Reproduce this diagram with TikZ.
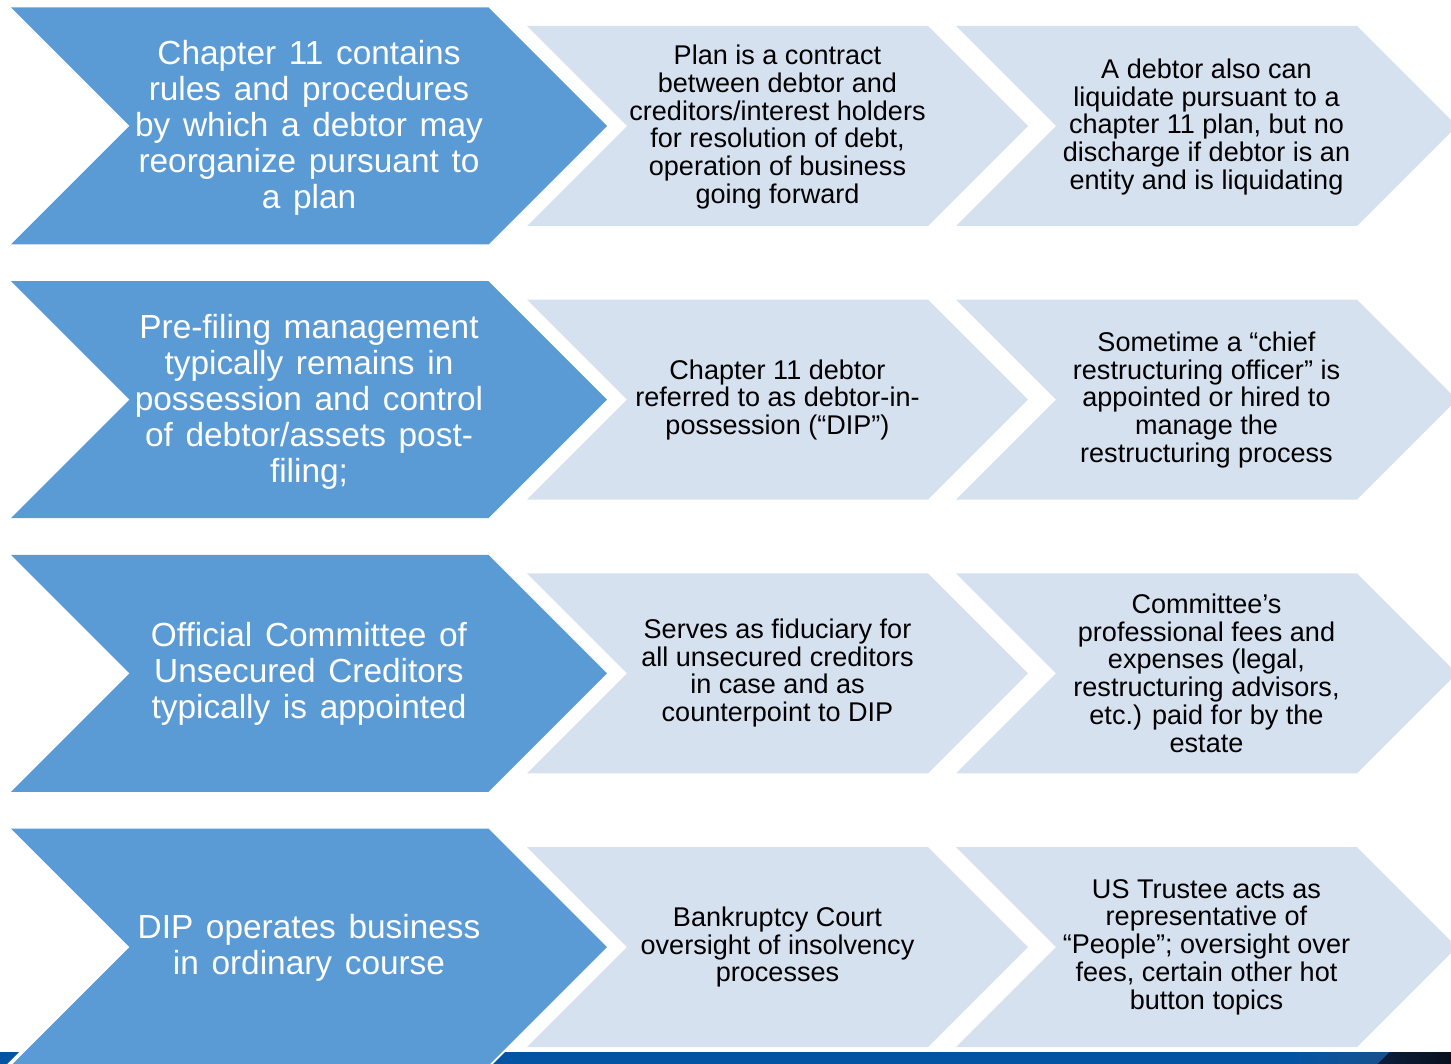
\documentclass[tikz,border=0pt]{standalone}
\usepackage{fontspec}
\setmainfont{Liberation Sans}
\definecolor{chdark}{RGB}{91,155,213}
\definecolor{chlight}{RGB}{214,225,240}
\definecolor{barblue}{RGB}{4,84,164}
\definecolor{barmid}{RGB}{24,80,140}
\definecolor{barnavy}{RGB}{12,30,60}
\definecolor{barblack}{RGB}{8,16,30}
% chevron: #1 style, #2 left x, #3 centre y, #4 half height, #5 length to the tip
\newcommand{\chev}[5]{%
  \fill[#1] (#2,#3-#4) -- ++(#5-#4,0) -- ++(#4,#4) -- ++(-#4,#4)
    -- ++(-#5+#4,0) -- ++(#4,-#4) -- cycle;}
\tikzset{
  dchev/.style={fill=chdark},
  lchev/.style={fill=chlight},
  dtxt/.style={align=center, text=white, inner sep=0pt,
    font={\fontsize{19}{20.5}\selectfont\spaceskip=0.38em\relax}},
  ltxt/.style={align=center, text=black, inner sep=0pt,
    font=\fontsize{15.4}{15.8}\selectfont},
}

\begin{document}
\begin{tikzpicture}[x=0.02cm,y=-0.02cm]
\useasboundingbox (0,0) rectangle (1451,1064);
% footer bar, cut round the last dark chevron
\fill[barblue] (0,1052) -- (19,1052) -- (7,1064) -- (0,1064) -- cycle;
\fill[barblue] (505,1052) -- (1451,1052) -- (1451,1064) -- (493,1064) -- cycle;
\fill[left color=barblue, right color=barmid] (1290,1052) rectangle (1390,1064);
\fill[left color=barnavy, right color=barblack]
  (1390,1052) -- (1451,1052) -- (1451,1064) -- (1378,1064) -- cycle;
% chevrons, one row at a time
\foreach \r in {0,1,2,3} {
  \pgfmathsetmacro{\cy}{126+273.7*\r}
  \chev{dchev}{11}{\cy}{118.5}{596}
  \chev{lchev}{527}{\cy}{100}{501}
  \chev{lchev}{956}{\cy}{100}{501}
}
% row 1
\node[dtxt] (rules) at (309,128) {Chapter 11 contains\\rules and procedures\\by which a debtor may\\reorganize pursuant to\\a plan};
\node[ltxt] (contract) at (777.5,127) {Plan is a contract\\between debtor and\\creditors/interest holders\\for resolution of debt,\\operation of business\\going forward};
\node[ltxt] (liquidate) at (1206.5,127) {A debtor also can\\liquidate pursuant to a\\chapter 11 plan, but no\\discharge if debtor is an\\entity and is liquidating};
% row 2
\node[dtxt] (mgmt) at (309,402) {Pre-filing management\\typically remains in\\possession and control\\of debtor/assets post-\\filing;};
\node[ltxt] (dip) at (777.5,400) {Chapter 11 debtor\\referred to as debtor-in-\\possession (“DIP”)};
\node[ltxt] (cro) at (1206.5,400) {Sometime a “chief\\restructuring officer” is\\appointed or hired to\\manage the\\restructuring process};
% row 3
\node[dtxt] (committee) at (309,674) {Official Committee of\\Unsecured Creditors\\typically is appointed};
\node[ltxt] (fiduciary) at (777.5,673) {Serves as fiduciary for\\all unsecured creditors\\in case and as\\counterpoint to DIP};
\node[ltxt] (fees) at (1206.5,673) {Committee’s\\professional fees and\\expenses (legal,\\restructuring advisors,\\etc.) paid for by the\\estate};
% row 4
\node[dtxt] (business) at (309,948) {DIP operates business\\in ordinary course};
\node[ltxt] (court) at (777.5,947) {Bankruptcy Court\\oversight of insolvency\\processes};
\node[ltxt] (trustee) at (1206.5,947) {US Trustee acts as\\representative of\\“People”; oversight over\\fees, certain other hot\\button topics};
\end{tikzpicture}
\end{document}
